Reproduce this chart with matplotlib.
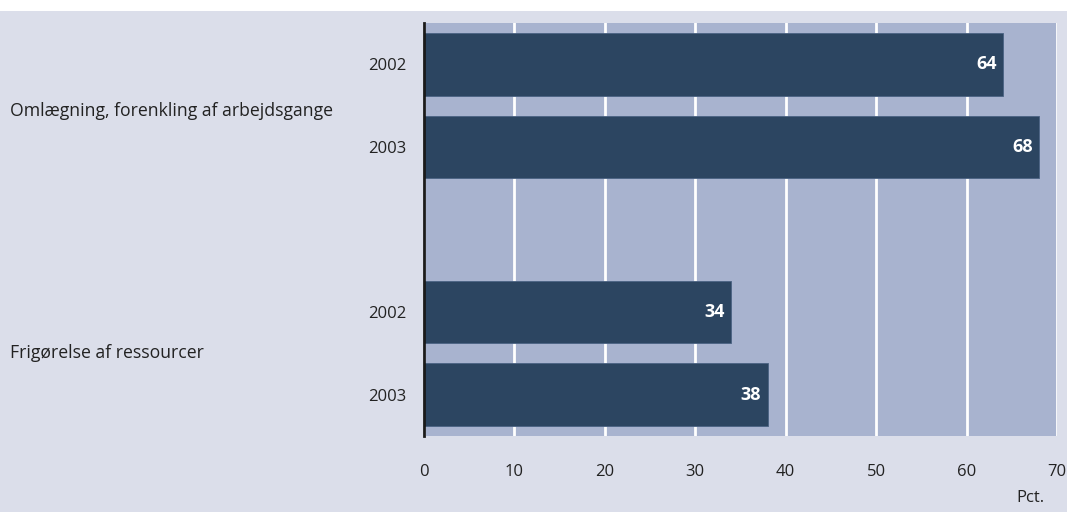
import matplotlib.pyplot as plt
from matplotlib.patches import Rectangle

plt.rcParams['font.family'] = ['Open Sans', 'DejaVu Sans']

categories = ['Omlægning, forenkling af arbejdsgange', 'Frigørelse af ressourcer']
years = ['2002', '2003', '2002', '2003']
values = [64, 68, 34, 38]
positions = [0, 1, 3, 4]

bg = '#dbdeea'
ax_bg = '#a8b3cf'
bar_col = '#2c4561'

fig = plt.figure(figsize=(10.67, 5.12), dpi=100)
fig.patch.set_facecolor('white')
fig.patches.append(Rectangle((0, 0), 1, 1 - 11 / 512, transform=fig.transFigure,
                             facecolor=bg, edgecolor='none', zorder=-10))

ax = fig.add_axes([424 / 1067, 76 / 512, 633 / 1067, 413 / 512])
ax.set_facecolor(ax_bg)

ax.barh(positions, values, height=0.76, color=bar_col, edgecolor='#4a6283',
        linewidth=0.6, zorder=3)

for p, v in zip(positions, values):
    ax.text(v - 0.7, p, str(v), ha='right', va='center', color='white',
            fontsize=13, fontweight='bold', zorder=4)

ax.set_xlim(0, 70)
ax.set_ylim(4.5, -0.5)
ax.set_xticks(range(0, 71, 10))
ax.set_yticks(positions)
ax.set_yticklabels(years)
ax.tick_params(axis='both', length=0, labelsize=12, colors='#222222')
ax.tick_params(axis='x', pad=20)
ax.tick_params(axis='y', pad=13)

ax.grid(axis='x', color='white', linewidth=2, zorder=1)
ax.set_axisbelow(True)
for s in ['top', 'right', 'bottom']:
    ax.spines[s].set_visible(False)
ax.spines['left'].set_linewidth(2)
ax.spines['left'].set_color('#1a1a1a')
ax.spines['left'].set_zorder(5)

# group labels on the left
x_lab = -(424 - 10) / 633 * 70
ax.text(x_lab, 0.57, categories[0], ha='left', va='center',
        fontsize=12.7, color='#222222', clip_on=False)
ax.text(x_lab, 3.5, categories[1], ha='left', va='center',
        fontsize=12.7, color='#222222', clip_on=False)

fig.text(1030 / 1067, 1 - 498 / 512, 'Pct.', ha='center', va='center',
         fontsize=12, color='#222222')

fig.savefig('out.png', dpi=100, facecolor=fig.get_facecolor())
